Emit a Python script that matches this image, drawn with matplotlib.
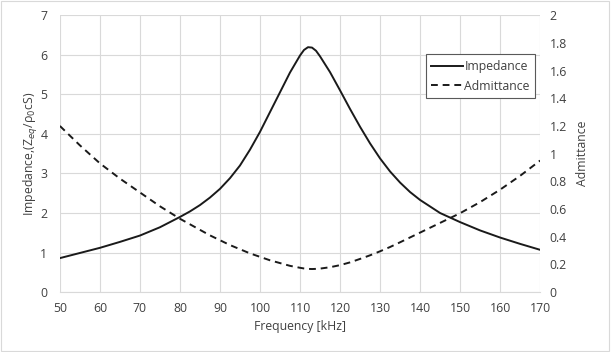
import matplotlib
matplotlib.use("Agg")
import matplotlib.pyplot as plt
import matplotlib.ticker as mticker
import matplotlib.patches

# values
freq_khz = [50, 55, 60, 65, 70, 75, 80, 82.5, 85, 87.5, 90, 92.5, 95, 97.5,
            100, 102.5, 105, 107.5, 110, 111, 112, 113, 114, 115, 117.5,
            120, 122.5, 125, 127.5, 130, 132.5, 135, 137.5, 140, 145, 150,
            155, 160, 165, 170]
impedance = [0.86, 0.99, 1.12, 1.27, 1.43, 1.64, 1.9, 2.04, 2.2, 2.39, 2.61,
             2.88, 3.2, 3.6, 4.05, 4.55, 5.05, 5.55, 5.98, 6.12, 6.19, 6.18,
             6.1, 5.96, 5.56, 5.1, 4.63, 4.18, 3.76, 3.38, 3.05, 2.77, 2.53,
             2.33, 2.0, 1.77, 1.56, 1.38, 1.22, 1.07]
admittance = [1.2, 1.06, 0.93, 0.82, 0.72, 0.62, 0.53, 0.49, 0.45, 0.41,
              0.375, 0.34, 0.31, 0.28, 0.255, 0.23, 0.21, 0.19, 0.176,
              0.171, 0.168, 0.167, 0.168, 0.17, 0.18, 0.195, 0.215, 0.24,
              0.266, 0.295, 0.326, 0.36, 0.395, 0.43, 0.5, 0.57, 0.65, 0.74,
              0.84, 0.95]

x_ticks = list(range(50, 171, 10))
left_ticks = list(range(0, 8))
right_ticks = [0, 0.2, 0.4, 0.6, 0.8, 1, 1.2, 1.4, 1.6, 1.8, 2]

plt.rcParams["font.family"] = ["Open Sans", "DejaVu Sans"]
fs = 8.8
text_color = "#404040"
grid_color = "#d9d9d9"

fig = plt.figure(figsize=(6.11, 3.52), dpi=100)
ax = fig.add_axes([0.098, 0.170, 0.786, 0.787])
ax2 = ax.twinx()

ax.plot(freq_khz, impedance, color="#1a1a1a", lw=1.4, label="Impedance")
ax2.plot(freq_khz, admittance, color="#1a1a1a", lw=1.4, ls=(0, (3.5, 2.5)),
         label="Admittance")

ax.set_xlim(50, 170)
ax.set_ylim(0, 7)
ax2.set_ylim(0, 2)
ax.set_xticks(x_ticks)
ax.set_yticks(left_ticks)
ax2.set_yticks(right_ticks)
ax2.yaxis.set_major_formatter(mticker.FormatStrFormatter("%g"))

ax.grid(True, color=grid_color, lw=0.8)
ax.set_axisbelow(True)
for a in (ax, ax2):
    for s in a.spines.values():
        s.set_visible(False)
    a.tick_params(length=0, colors=text_color, labelsize=fs)
ax.spines["bottom"].set_visible(True)
ax.spines["bottom"].set_color(grid_color)
ax.tick_params(axis="x", pad=7)
ax.tick_params(axis="y", pad=9)
ax2.tick_params(axis="y", pad=7)

ax.set_xlabel("Frequency [kHz]", color=text_color, fontsize=fs, labelpad=4)
ax.set_ylabel("Impedance,(Z$_{eq}$/ρ$_0$cS)", color=text_color, fontsize=fs,
              labelpad=0)
ax2.set_ylabel("Admittance", color=text_color, fontsize=fs, labelpad=6)

h1, l1 = ax.get_legend_handles_labels()
h2, l2 = ax2.get_legend_handles_labels()
leg = ax2.legend(h1 + h2, l1 + l2, loc="upper right",
                 bbox_to_anchor=(0.99, 0.858), fancybox=False, framealpha=1,
                 edgecolor="#595959", handlelength=2.6, handletextpad=0.1,
                 borderpad=0.45, labelspacing=0.55, borderaxespad=0,
                 fontsize=fs)
leg.get_frame().set_linewidth(0.8)
for t in leg.get_texts():
    t.set_color(text_color)

fig.patches.append(matplotlib.patches.Rectangle(
    (0.002, 0.002), 0.995, 0.995, transform=fig.transFigure, fill=False,
    edgecolor="#d9d9d9", lw=0.8))

fig.savefig("out.png", dpi=100)
